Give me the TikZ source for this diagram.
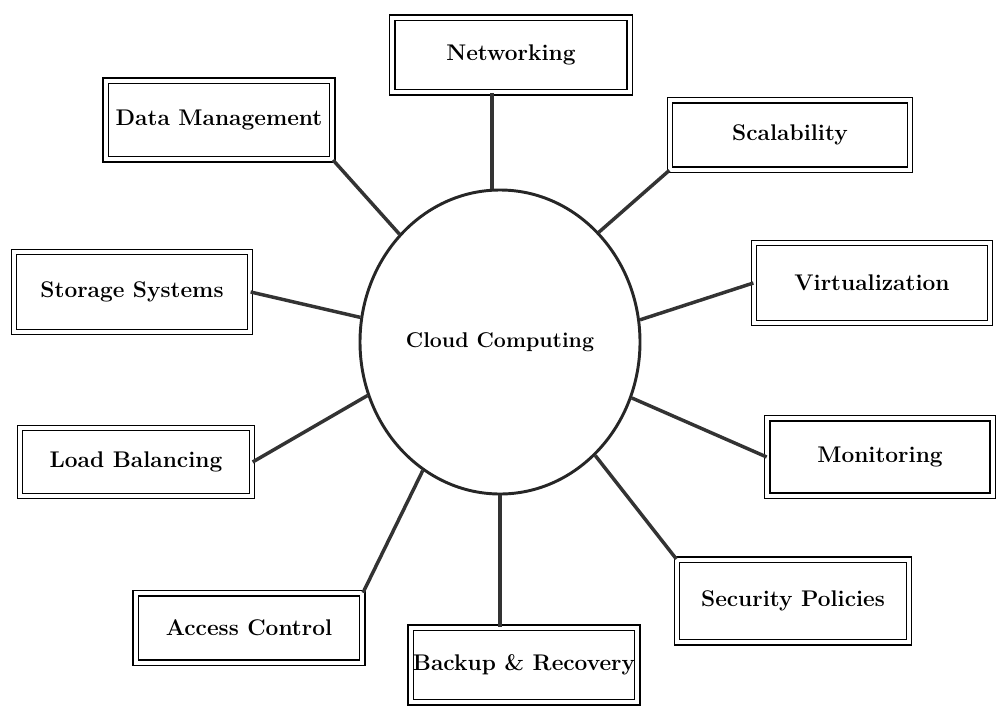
\documentclass[tikz,border=0pt]{standalone}
\usetikzlibrary{shapes.geometric}
\begin{document}
\begin{tikzpicture}[x=0.75pt,y=-0.75pt,
  hub/.style={ellipse,draw=black!85,line width=2.2pt,minimum width=210pt,minimum height=228pt,inner sep=0pt},
  leaf/.style={rectangle,draw=black,line width=1pt,double,double distance=2.8pt,inner sep=0pt,
     font=\fontsize{17}{20}\selectfont\bfseries},
  conn/.style={draw=black!80,line width=2.6pt}]
\useasboundingbox (0,0) rectangle (996,707);
\node[hub,font=\fontsize{16}{19}\selectfont\bfseries] (c) at (500,342) {Cloud Computing};
\node[leaf,minimum width=178pt,minimum height=56pt] (b1) at (511,55) {Networking};
\node[leaf,minimum width=170pt,minimum height=59pt] (b2) at (219,120) {Data Management};
\node[leaf,minimum width=180pt,minimum height=52pt] (b3) at (790,135) {Scalability};
\node[leaf,minimum width=177pt,minimum height=60pt] (b4) at (132,292) {Storage Systems};
\node[leaf,minimum width=177pt,minimum height=60pt] (b5) at (872,283) {Virtualization};
\node[leaf,minimum width=174pt,minimum height=51pt] (b6) at (136,462) {Load Balancing};
\node[leaf,minimum width=169pt,minimum height=58pt] (b7) at (880,457) {Monitoring};
\node[leaf,minimum width=170pt,minimum height=52pt] (b8) at (249,628) {Access Control};
\node[leaf,minimum width=170pt,minimum height=56pt] (b9) at (524,665) {Backup \& Recovery};
\node[leaf,minimum width=174pt,minimum height=62pt] (b10) at (793,601) {Security Policies};
\draw[conn] (c.93) -- (c.93 |- b1.south);
\draw[conn] (b2.south east) -- (c.133);
\draw[conn] (b3.south west) -- (c.48);
\draw[conn] (b4.east) -- (c.170);
\draw[conn] (b5.west) -- (c.9);
\draw[conn] (b6.east) -- (c.202);
\draw[conn] (b7.west) -- (c.337);
\draw[conn] (b8.north east) -- (c.239);
\draw[conn] (c.270) -- (c.270 |- b9.north);
\draw[conn] (b10.north west) -- (c.310);
\end{tikzpicture}
\end{document}
